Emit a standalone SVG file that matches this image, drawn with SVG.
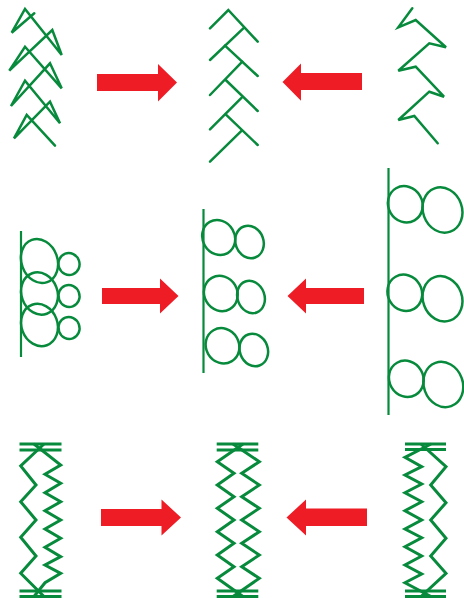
<svg xmlns="http://www.w3.org/2000/svg" width="464" height="598" viewBox="0 0 464 598">
<style>
.g{fill:none;stroke:#078a3c;stroke-width:2.5;stroke-linejoin:miter;stroke-linecap:round}
.sp{fill:none;stroke:#078a3c;stroke-width:3;stroke-linejoin:miter}
.ln{fill:none;stroke:#078a3c;stroke-width:2.2}
.ar{fill:#ee1c25}
</style>
<rect width="464" height="598" fill="#fff"/>
<g id="arrows">
<polygon class="ar" points="97,74 158,74 158,64 177,82.5 158,101.5 158,91 97,91"/>
<polygon class="ar" points="362,73 301,73 301,63.5 282.5,82 301,100.7 301,90 362,90"/>
<polygon class="ar" points="102,288 160,288 160,278.5 178.5,296 160,313.5 160,304 102,304"/>
<polygon class="ar" points="364,288 306,288 306,278.5 287.5,296 306,313.5 306,304 364,304"/>
<polygon class="ar" points="101,509 161.5,509 161.5,499.5 181,517.5 161.5,535.5 161.5,526 101,526"/>
<polygon class="ar" points="367,508.5 306,508.5 306,499.5 286.5,517.5 306,535.5 306,526 367,526"/>
</g>
<g id="fold-left">
<polyline class="g" points="34.3,13.3 11.7,32.7 25,9 61.7,55 52.3,30 9.3,70.7 25,46.7 61.7,88.3 50,63.3 11,106 25,80.7 60,123.3 50,101.7 14,138.3 26.7,115 55,145.7"/>
</g>
<g id="fold-middle">
<polyline class="g" points="210,28.3 228.3,10 257.7,41.7"/>
<line class="g" x1="243.3" y1="28.3" x2="210" y2="60"/>
<line class="g" x1="225" y1="45.7" x2="257.7" y2="76"/>
<line class="g" x1="242.3" y1="61.7" x2="210" y2="95"/>
<line class="g" x1="225.7" y1="80" x2="257.7" y2="111"/>
<line class="g" x1="241.7" y1="97.7" x2="210" y2="129.3"/>
<line class="g" x1="225.7" y1="114.3" x2="257.7" y2="145"/>
<line class="g" x1="241.7" y1="130.7" x2="210" y2="161.7"/>
</g>
<g id="fold-right">
<polyline class="g" points="412.3,8.3 398.3,27.3 415.7,20 446,47.3 429.3,43.3 398.3,70.7 415.7,66.7 444,96.7 429.3,91.7 398.3,120 414.3,116 437.7,143.3"/>
</g>
<g id="loops-left">
<line class="ln" x1="21" y1="231" x2="21" y2="357"/>
<ellipse class="g" cx="39.5" cy="261" rx="18" ry="22.5" transform="rotate(-20 39.5 261)"/>
<ellipse class="g" cx="39.5" cy="293.5" rx="18" ry="21.5" transform="rotate(-20 39.5 293.5)"/>
<ellipse class="g" cx="39.5" cy="325" rx="18" ry="21.5" transform="rotate(-20 39.5 325)"/>
<ellipse class="g" cx="69" cy="264" rx="10.5" ry="11" transform="rotate(-20 69 264)"/>
<ellipse class="g" cx="69" cy="296" rx="10.5" ry="11" transform="rotate(-20 69 296)"/>
<ellipse class="g" cx="69" cy="328" rx="10.5" ry="11" transform="rotate(-20 69 328)"/>
</g>
<g id="loops-middle">
<line class="ln" x1="203.5" y1="209" x2="203.5" y2="373"/>
<ellipse class="g" cx="218.7" cy="237.5" rx="16" ry="18" transform="rotate(-30 218.7 237.5)"/>
<ellipse class="g" cx="249.5" cy="242" rx="14" ry="16.5" transform="rotate(-20 249.5 242)"/>
<ellipse class="g" cx="220.8" cy="293.5" rx="16.5" ry="18" transform="rotate(-30 220.8 293.5)"/>
<ellipse class="g" cx="251" cy="297" rx="13.5" ry="16.5" transform="rotate(-20 251 297)"/>
<ellipse class="g" cx="222.5" cy="345.8" rx="16.5" ry="18" transform="rotate(-30 222.5 345.8)"/>
<ellipse class="g" cx="253.8" cy="350" rx="14" ry="16.5" transform="rotate(-20 253.8 350)"/>
</g>
<g id="loops-right">
<line class="ln" x1="388.5" y1="168" x2="388.5" y2="415"/>
<ellipse class="g" cx="405.3" cy="204.3" rx="17" ry="18.5" transform="rotate(-30 405.3 204.3)"/>
<ellipse class="g" cx="442.5" cy="210" rx="19.5" ry="23" transform="rotate(-20 442.5 210)"/>
<ellipse class="g" cx="404.8" cy="292.8" rx="17" ry="18.5" transform="rotate(-30 404.8 292.8)"/>
<ellipse class="g" cx="442.5" cy="298.8" rx="19.5" ry="23" transform="rotate(-20 442.5 298.8)"/>
<ellipse class="g" cx="406.3" cy="378.8" rx="17" ry="18.5" transform="rotate(-30 406.3 378.8)"/>
<ellipse class="g" cx="443.3" cy="384.5" rx="19.5" ry="23" transform="rotate(-20 443.3 384.5)"/>
</g>
<g id="spring-left">
<line class="sp" x1="19.5" y1="444" x2="61.5" y2="444"/>
<line class="sp" x1="19.5" y1="450" x2="61.5" y2="450"/>
<line class="sp" x1="19.5" y1="591" x2="61.5" y2="591"/>
<line class="sp" x1="19.5" y1="596.5" x2="61.5" y2="596.5"/>
<polyline class="sp" points="44,444 20.7,466 36,485 20.7,501.7 36,520 20.7,537.3 36,556 20.7,573.3 44,596.5"/>
<polyline class="sp" points="34,444 60.7,465 45,474.3 60.7,483.3 45,492.7 60.7,501.7 45,510.7 60.7,520 45,529 60.7,538.3 45,547.3 60.7,556.7 45,565 60.7,573.3 45,582.7 34,596.5"/>
</g>
<g id="spring-middle">
<line class="sp" x1="216.7" y1="444" x2="258.3" y2="444"/>
<line class="sp" x1="216.7" y1="450" x2="258.3" y2="450"/>
<line class="sp" x1="216.7" y1="591" x2="258.3" y2="591"/>
<line class="sp" x1="216.7" y1="596.5" x2="258.3" y2="596.5"/>
<polyline class="sp" points="243,444 217.3,461.7 234,473.3 217.3,485 234,496.7 217.3,508.3 234,520 217.3,531.7 234,543.3 217.3,555 234,566.7 217.3,578.3 243,596.5"/>
<polyline class="sp" points="233,444 259.3,461.7 241.7,473.3 259.3,485 241.7,496.7 259.3,508.3 241.7,520 259.3,531.7 241.7,543.3 259.3,555 241.7,566.7 259.3,578.3 233,596.5"/>
</g>
<g id="spring-right">
<line class="sp" x1="405" y1="444" x2="446" y2="444"/>
<line class="sp" x1="405" y1="449.5" x2="446" y2="449.5"/>
<line class="sp" x1="405" y1="591" x2="446" y2="591"/>
<line class="sp" x1="405" y1="596.5" x2="446" y2="596.5"/>
<polyline class="sp" points="431,444 405,457.3 421.7,466.7 405,475 421.7,484 405,492.7 421.7,501.7 405,510.7 421.7,520 405,529 421.7,537.7 405,546.7 421.7,556 405,565 421.7,574 405,582.7 431,596.5"/>
<polyline class="sp" points="421,444 446,466.7 430.7,485 446,502.7 430.7,520 446,538.3 430.7,556 446,573.3 421,596.5"/>
</g>
</svg>
